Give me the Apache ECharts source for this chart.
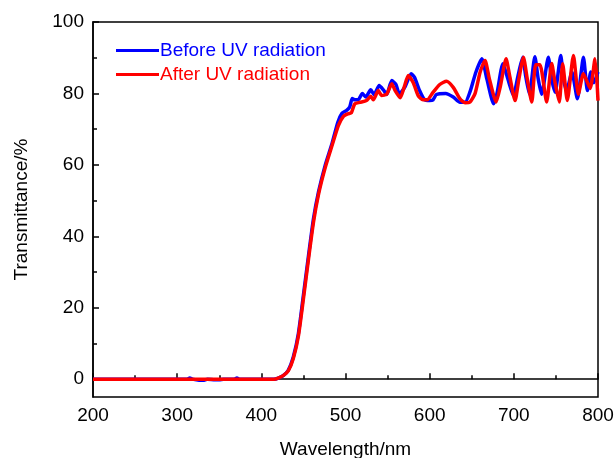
<!DOCTYPE html>
<html><head><meta charset="utf-8">
<script src="https://cdn.jsdelivr.net/npm/echarts@6/dist/echarts.min.js"></script>
<style>html,body{margin:0;padding:0;background:#fff}#c{width:614px;height:458px}</style>
</head><body><div id="c"></div>
<script>
// Wavelength (nm) and transmittance (%)
const beforeX = [200,250,300,312,315,318,326,332,336,345,350,355,368,371,374,400,415,420,426,432,438,444,450,456,462,468,476,484,491,496,501,505,508,511,515,520,524,530,534,540,545,549,555,560,564,571,578,582,588,594,600,604,608,619,628,636,642,648,655,662,668,676,680,687,693,699.5,705,710.6,714,718.5,725,729,733,741,745,749,755.7,759,762.8,769,775.5,782.7,787.4,791.4,795,800];
const beforeY = [0,0,0,0,0.3,0,-0.3,-0.3,0,-0.2,-0.2,0,0,0.3,0,0,0,0.3,1,2.5,6.2,12.7,23.5,34.5,45,52.5,60,66,72,74.5,75.2,76.2,78.6,78.2,78.2,80,79,81,79.7,82.2,81,79.7,83.6,82.5,79.8,82,85.5,84.5,80.8,78.2,78,78.2,79.7,80,79,77.5,77.5,80.5,86,89.7,84,77.1,80,88.3,84,79.4,85,90.1,85,79.8,90.3,84,79.8,90.1,84,80.3,90.6,84,80.8,86,78.5,90.1,80.8,86,83,86];
const afterX = [200,300,400,415,420,426,432,438,444,450,456,462,468,476,484,491.5,497.5,503,507,511,517,525,530,533,539,543,549,555,559,565,570,574.6,580.5,586.5,592,597,604,612,620,628,636,642,648,654,660,665.8,671,679,684,690.8,695,701.5,706,711.4,716,721.3,726,731,739,745,749,754,758,763.5,770.8,776.7,782.7,790.6,796.5,800];
const afterY = [0,0,0,0,0.3,1,2.3,5.8,12,22.5,33.5,44,51.8,59.3,65.4,71,73.6,74.3,74.6,77.1,77.5,78,79.2,78.2,80.8,79.4,79.8,82.7,80.8,78.8,82,85,83,79.3,78.2,78.2,80.3,82.5,83.4,81.7,78.5,77.4,77.6,80,86,89.2,84,77.6,82,89.7,85,78,84,90.1,84,77.6,88,88,77.6,88.4,83,77.6,88.3,78,90.6,79.8,85.5,81.4,89.7,78];
const seriesNames = ['Before UV radiation','After UV radiation'];
const yLabels = [0,20,40,60,80,100];
const yMinor = [10,30,50,70,90];

const pairs = (xs, ys) => xs.map((x, i) => [x, ys[i]]);
const FONT = 'Liberation Sans, Arial, sans-serif';
const chart = echarts.init(document.getElementById('c'));
chart.setOption({
  animation: false,
  grid: {left: 93, right: 16, top: 22, bottom: 61, outerBoundsMode: 'none', containLabel: false, show: true, borderColor: '#000', borderWidth: 1.5, backgroundColor: 'transparent'},
  legend: {
    orient: 'vertical', left: 111, top: 36, itemWidth: 43, itemHeight: 3, itemGap: 5, icon: 'rect',
    data: [
      {name: seriesNames[0], textStyle: {color: '#0000ff'}},
      {name: seriesNames[1], textStyle: {color: '#ff0000'}}
    ],
    textStyle: {fontFamily: FONT, fontSize: 19, padding: [0,0,0,-4]}
  },
  xAxis: {
    type: 'value', min: 200, max: 800, interval: 100,
    name: 'Wavelength/nm', nameLocation: 'middle', nameGap: 43,
    nameTextStyle: {fontFamily: FONT, fontSize: 19, color: '#000'},
    axisLine: {show: true, lineStyle: {color: '#000', width: 1.5}},
    axisTick: {show: true, inside: true, length: 6, lineStyle: {color: '#000', width: 1.5}},
    minorTick: {show: true, splitNumber: 2, length: 4, lineStyle: {color: '#000', width: 1.5}},
    splitLine: {show: false},
    axisLabel: {fontFamily: FONT, fontSize: 19, color: '#000', margin: 9}
  },
  yAxis: [{
    type: 'value', min: -5, max: 100,
    name: 'Transmittance/%', nameLocation: 'middle', nameGap: 62,
    nameTextStyle: {fontFamily: FONT, fontSize: 19, color: '#000'},
    axisLine: {show: true, lineStyle: {color: '#000', width: 1.5}},
    axisTick: {show: true, inside: true, length: 6, customValues: yLabels, lineStyle: {color: '#000', width: 1.5}},
    splitLine: {show: false},
    axisLabel: {fontFamily: FONT, fontSize: 19, color: '#000', margin: 9, customValues: yLabels}
  }, {
    type: 'value', min: -5, max: 100, position: 'left',
    axisLine: {show: false},
    axisTick: {show: true, inside: true, length: 4, customValues: yMinor, lineStyle: {color: '#000', width: 1.5}},
    splitLine: {show: false},
    axisLabel: {show: false}
  }],
  series: [
    {name: seriesNames[0], type: 'line', data: pairs(beforeX, beforeY), showSymbol: false, smooth: 0.2,
     lineStyle: {color: '#0000ff', width: 3.5}, itemStyle: {color: '#0000ff'}},
    {name: seriesNames[1], type: 'line', data: pairs(afterX, afterY), showSymbol: false, smooth: 0.2,
     lineStyle: {color: '#ff0000', width: 3.5}, itemStyle: {color: '#ff0000'}}
  ]
});
</script></body></html>
